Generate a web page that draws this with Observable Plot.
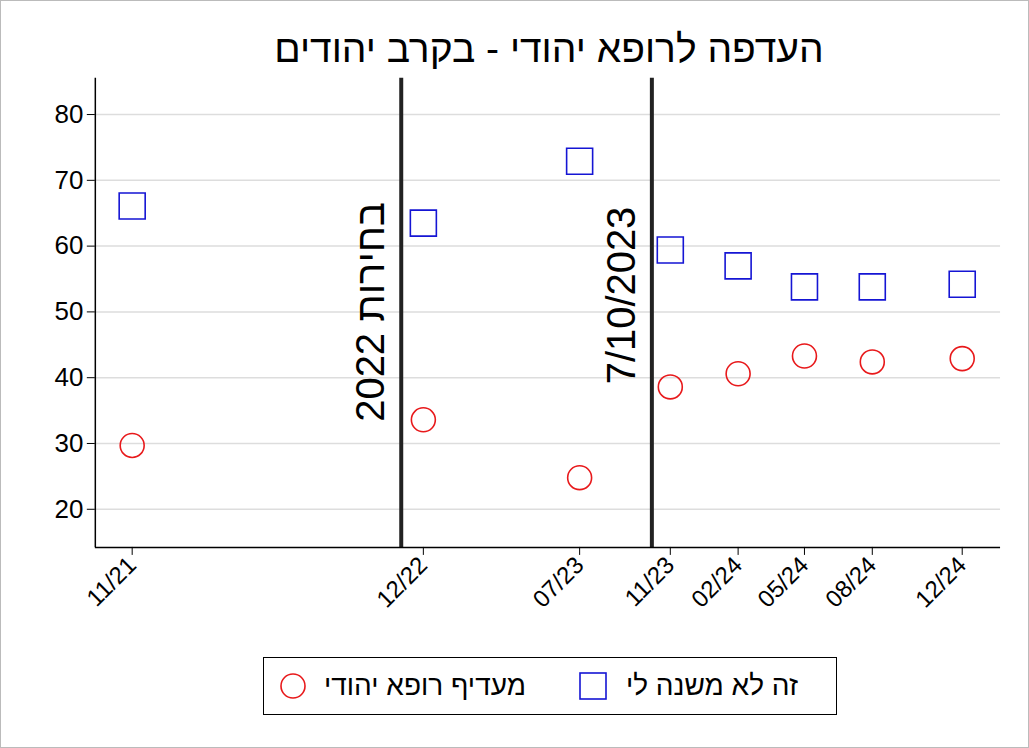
<!DOCTYPE html>
<html><head><meta charset="utf-8">
<script src="https://cdn.jsdelivr.net/npm/d3@7"></script>
<script src="https://cdn.jsdelivr.net/npm/@observablehq/plot@0.6"></script>
<style>
body{margin:0;background:#fff;font-family:"Liberation Sans",Arial,sans-serif;}
#wrap{position:relative;width:1027px;height:746px;border:1px solid #bbb;overflow:hidden}
#title{position:absolute;left:0;width:1096px;top:26px;text-align:center;font-size:39px;direction:rtl}
#chart{position:absolute;left:0;top:0}
#legend{position:absolute;left:262px;top:656px;width:572px;height:56px;border:1.5px solid #000;display:flex;align-items:center;direction:ltr;font-size:28px}
.rtl text{direction:rtl;unicode-bidi:embed}
</style></head>
<body><div id="wrap"><div id="title">העדפה לרופא יהודי - בקרב יהודים</div><div id="chart"></div>
<div id="legend">
<svg width="30" height="30" style="margin-left:14px"><circle cx="15" cy="15" r="12" fill="none" stroke="#e8191b" stroke-width="1.6"/></svg>
<span style="margin-left:16px;direction:rtl">מעדיף רופא יהודי</span>
<svg width="30" height="30" style="margin-left:52px"><rect x="2" y="2" width="26" height="26" fill="none" stroke="#1515d4" stroke-width="1.6"/></svg>
<span style="margin-left:18px;direction:rtl">זה לא משנה לי</span>
</div></div>
<script>
const dates = ["2021-11-01","2022-12-01","2023-07-01","2023-11-01","2024-02-01","2024-05-01","2024-08-01","2024-12-01"];
const labels = ["11/21","12/22","07/23","11/23","02/24","05/24","08/24","12/24"];
const noMatter = [66.1,63.5,72.9,59.4,57.0,53.8,53.8,54.2];
const preferJewish = [29.7,33.6,24.8,38.6,40.6,43.3,42.4,42.9];
const events = [{date:"2022-11-01",label:"בחירות 2022",y:50},{date:"2023-10-07",label:"7/10/2023",y:52.5}];
const yTicks = [20,30,40,50,60,70,80];

const D = s => new Date(s+"T00:00:00Z");
const rowsB = dates.map((d,i)=>({x:D(d),y:noMatter[i]}));
const rowsR = dates.map((d,i)=>({x:D(d),y:preferJewish[i]}));
const ev = events.map(e=>({x:D(e.date),label:e.label,y:e.y}));
const tickMap = new Map(dates.map((d,i)=>[+D(d),labels[i]]));

const plot = Plot.plot({
  width:1029,height:640,
  marginTop:77,marginBottom:93,marginLeft:94,marginRight:28,
  style:{fontFamily:"Liberation Sans, Arial, sans-serif",fontSize:"26px",color:"#000",background:"transparent"},
  x:{type:"utc",domain:[D("2021-09-12"),D("2025-01-22")],label:null},
  y:{domain:[14.2,85.5],label:null},
  marks:[
    Plot.gridY(yTicks,{stroke:"#ddd",strokeOpacity:1,strokeWidth:1.5}),
    Plot.ruleX(ev,{x:"x",stroke:"#222",strokeWidth:4}),
    Plot.text(ev,{x:"x",y:"y",text:"label",rotate:-90,dx:-30,fontSize:40,fill:"#000",className:"rtl"}),
    Plot.axisY({ticks:yTicks,tickSize:8,fontSize:26,tickPadding:4,label:null}),
    Plot.axisX({ticks:dates.map(D),tickFormat:d=>tickMap.get(+d),tickRotate:-45,tickSize:8,fontSize:24,textAnchor:"end",label:null}),
    Plot.ruleX([D("2021-09-12")],{stroke:"#000",strokeWidth:1.5}),
    Plot.ruleY([14.2],{stroke:"#000",strokeWidth:1.5}),
    Plot.dot(rowsR,{x:"x",y:"y",r:12,stroke:"#e8191b",strokeWidth:1.6,fill:"none"}),
    Plot.dot(rowsB,{x:"x",y:"y",r:14.7,symbol:"square",stroke:"#1515d4",strokeWidth:1.6,fill:"none"})
  ]
});
document.getElementById("chart").appendChild(plot);
</script></body></html>
